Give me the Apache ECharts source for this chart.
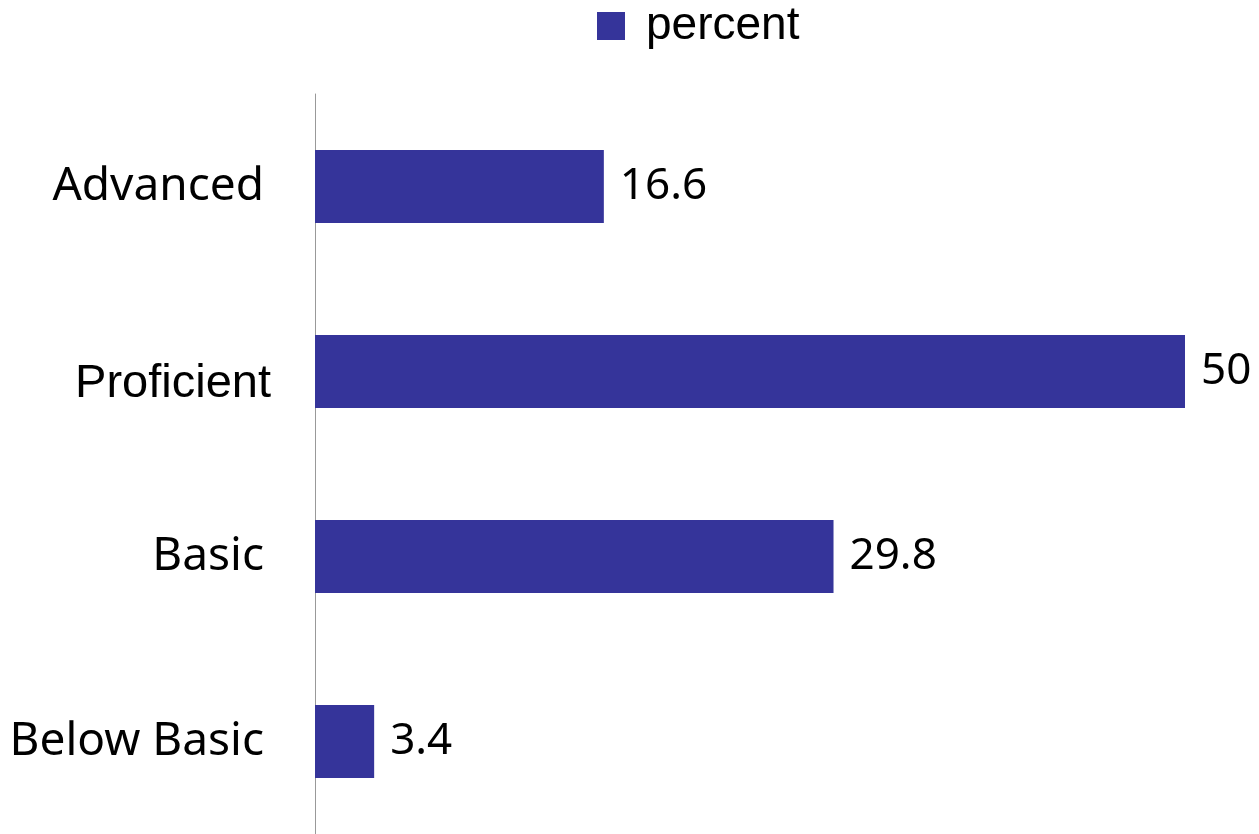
<!DOCTYPE html>
<html><head><meta charset="utf-8">
<script src="https://cdn.jsdelivr.net/npm/echarts@6/dist/echarts.min.js"></script>
<style>html,body{margin:0;padding:0;background:#fff}#c{width:1259px;height:834px}</style>
</head><body><div id="c"></div>
<script>
const categories = ["Advanced", "Proficient", "Basic", "Below Basic"];
const percentValues = [16.6, 50, 29.8, 3.4];
const seriesName = "percent";

const chart = echarts.init(document.getElementById('c'));
chart.setOption({
  animation: false,
  legend: {
    data: [seriesName], left: 597, top: 3, padding: 0, itemWidth: 28, itemHeight: 28,
    icon: 'rect',
    textStyle: { fontFamily: 'Liberation Sans, Arial', fontSize: 46, color: '#000', padding: [8, 0, 0, 16] }
  },
  grid: { left: 315, right: 74, top: 94, bottom: 0 },
  xAxis: { type: 'value', min: 0, max: 50, show: false },
  yAxis: {
    type: 'category', data: categories, inverse: true,
    axisLine: { show: true, lineStyle: { color: '#999', width: 1 } },
    axisTick: { show: false },
    axisLabel: {
      margin: 44,
      formatter: v => v === 'Proficient' ? '{a|' + v + '}' : '{b|' + v + '}',
      rich: {
        a: { fontFamily: 'Liberation Sans, Arial', fontSize: 47, color: '#000', padding: [26, 0, 0, 0] },
        b: { fontFamily: 'Noto Sans', fontSize: 46, color: '#000', padding: [0, 7, 0, 0] }
      }
    }
  },
  series: [{
    name: seriesName, type: 'bar', data: percentValues, barWidth: 73,
    itemStyle: { color: '#35349a' },
    label: { show: true, position: 'right', distance: 16, fontFamily: 'Noto Sans', fontSize: 44, color: '#000', padding: [6, 0, 0, 0] }
  }]
});
</script></body></html>
